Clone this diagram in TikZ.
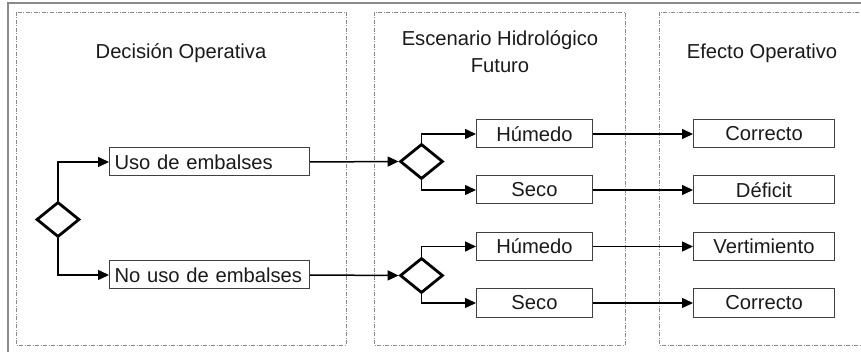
\documentclass[tikz,border=0pt]{standalone}
\usepackage{fontspec}
\setmainfont{Liberation Sans}
\usetikzlibrary{shapes.geometric,arrows.meta}
\definecolor{framegray}{HTML}{8A8A8A}
\definecolor{boxgray}{HTML}{404040}
\definecolor{txt}{HTML}{1A1A1A}
\begin{document}
\begin{tikzpicture}[x=1pt,y=-1pt,
  every node/.style={font=\fontsize{20.2}{24}\selectfont, text=txt},
  panel/.style={draw=framegray, line width=0.8pt, dash pattern=on 4pt off 1.5pt on 1pt off 1.5pt},
  leftbox/.style={draw=boxgray, line width=1pt, minimum height=28pt, text width=190pt, inner xsep=5pt, inner ysep=0pt, align=left, anchor=west},
  midbox/.style={draw=boxgray, line width=1pt, minimum height=28pt, minimum width=116pt, inner sep=0pt, anchor=west},
  rightbox/.style={draw=boxgray, line width=1pt, minimum height=28pt, minimum width=141pt, inner sep=0pt, anchor=west},
  decision/.style={diamond, draw=black, line width=2.8pt, minimum width=43pt, minimum height=35pt, inner sep=0pt},
  arr/.style={draw=black, line width=1.5pt, -{Triangle[length=11pt,width=10pt]}},
  title/.style={align=center, inner sep=0pt}
]
\useasboundingbox (0,0) rectangle (861,352);
% outer frame (top and left only visible)
\draw[framegray, line width=1.3pt] (8,352) -- (8,3) -- (861,3);
% panels
\draw[panel] (16,12) rectangle (346,345);
\draw[panel] (374,12) rectangle (625,345);
\draw[panel] (659,12) rectangle (866,345);
% titles
\node[title] (t1) at (181,53) {Decisión Operativa};
\node[title] (t2a) at (500,40) {Escenario Hidrológico};
\node[title] (t2b) at (500,66) {Futuro};
\node[title] (t3) at (762,53) {Efecto Operativo};
% decision column
\node[decision] (d1) at (58,219.5) {};
\node[leftbox] (b1) at (109,162) {Uso de embalses};
\node[leftbox] (b2) at (109,275) {No uso de embalses};
% scenario column
\node[decision] (d2) at (421.5,161.5) {};
\node[decision] (d3) at (421.5,275.5) {};
\node[midbox] (h1) at (476,134) {Húmedo};
\node[midbox] (s1) at (476,190) {Seco};
\node[midbox] (h2) at (476,246.5) {Húmedo};
\node[midbox] (s2) at (476,303) {Seco};
% effect column
\node[rightbox] (e1) at (693,134) {Correcto};
\node[rightbox] (e2) at (693,190) {Déficit};
\node[rightbox] (e3) at (693,246.5) {Vertimiento};
\node[rightbox] (e4) at (693,303) {Correcto};
% connectors
\draw[arr] (d1.north) |- (b1.west);
\draw[arr] (d1.south) |- (b2.west);
\draw[arr] (b1.east) -- (d2.west);
\draw[arr] (b2.east) -- (d3.west);
\draw[arr] (d2.north) |- (h1.west);
\draw[arr] (d2.south) |- (s1.west);
\draw[arr] (d3.north) |- (h2.west);
\draw[arr] (d3.south) |- (s2.west);
\draw[arr] (h1.east) -- (e1.west);
\draw[arr] (s1.east) -- (e2.west);
\draw[arr] (h2.east) -- (e3.west);
\draw[arr] (s2.east) -- (e4.west);
\end{tikzpicture}
\end{document}
